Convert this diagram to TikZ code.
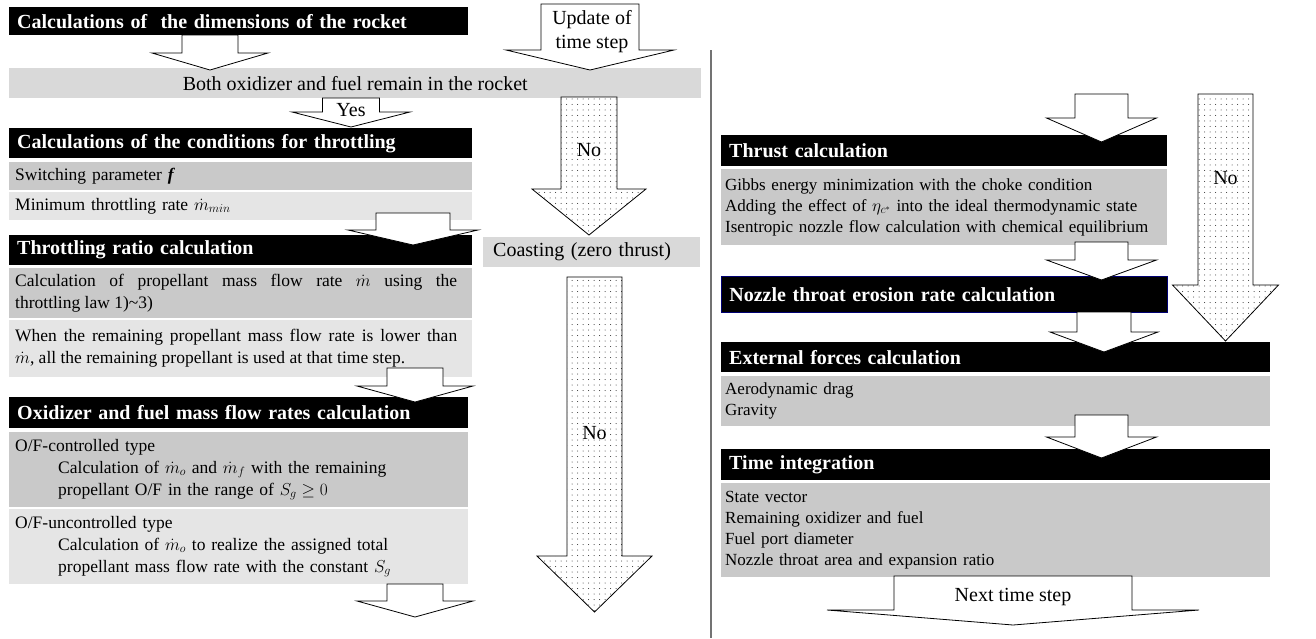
\documentclass[tikz,border=0pt]{standalone}
\usepackage{fontspec}
\setmainfont{Liberation Serif}
\usepackage{tikz}
\usetikzlibrary{patterns.meta}

\newcommand{\hdrfont}{\bfseries\fontsize{20}{24}\selectfont}
\newcommand{\rowfont}{\fontsize{17.5}{22}\selectfont}
\newcommand{\sideroWfont}{\fontsize{17}{21}\selectfont}
\newcommand{\barfont}{\fontsize{20}{24}\selectfont}
% justified paragraph inside a row
\newcommand{\justpar}[1]{\parbox{442pt}{\leftskip=0pt\rightskip=0pt\spaceskip=0pt\xspaceskip=0pt
  \parfillskip=0pt plus 1fil\relax #1}}
% block arrow: [style] {centre x}{top}{head base}{tip}{half shaft}{half head}
\newcommand{\blockarrow}[7][]{%
  \draw[#1] ({#2-#6},#3) -- ({#2-#6},#4) -- ({#2-#7},#4) -- (#2,#5)
    -- ({#2+#7},#4) -- ({#2+#6},#4) -- ({#2+#6},#3) -- cycle;}

\begin{document}
\begin{tikzpicture}[x=1pt, y=-1pt,
    hdr/.style={fill=black, text=white, font=\hdrfont, anchor=north west,
      inner xsep=8pt, inner ysep=0pt, align=left},
    darkrow/.style={fill=black!21, font=\rowfont, anchor=north west,
      inner xsep=6pt, inner ysep=0pt, align=left},
    lightrow/.style={darkrow, fill=black!10},
    siderow/.style={darkrow, font=\sideroWfont, inner xsep=4pt},
    greybar/.style={fill=black!15, font=\barfont, anchor=north west, inner sep=0pt},
    hollow/.style={draw=black, fill=white, line width=0.8pt},
    speckled/.style={draw=black, line width=0.8pt, preaction={fill=white},
      pattern={Dots[distance=5.5pt, radius=0.5pt]}, pattern color=black!85},
    lbl/.style={font=\barfont, inner sep=0pt, align=center}]
  \useasboundingbox (0,0) rectangle (1316,638);

  % Left column
  \node[hdr, text width=443pt, minimum height=28pt] (dims) at (9,7)
    {Calculations of\ \ the dimensions of the rocket};
  \node[greybar, minimum width=692pt, minimum height=30pt] (remain) at (9,68)
    {Both oxidizer and fuel remain in the rocket};
  \node[hdr, text width=447pt, minimum height=30pt] (cond) at (9,128)
    {Calculations of the conditions for throttling};
  \node[darkrow, text width=451pt, minimum height=28pt] (switch) at (9,162)
    {Switching parameter \textbf{\textit{f}}};
  \node[lightrow, text width=451pt, minimum height=28pt] (minrate) at (9,192)
    {Minimum throttling rate $\dot{m}_{min}$};
  \node[hdr, text width=447pt, minimum height=30pt] (ratio) at (9,235)
    {Throttling ratio calculation};
  \node[darkrow, text width=451pt, minimum height=50pt] (law) at (9,268)
    {\justpar{Calculation of propellant mass flow rate $\dot{m}$ using the\linebreak
      throttling law 1)\textasciitilde3)}};
  \node[lightrow, text width=451pt, minimum height=57pt] (lower) at (9,320)
    {\justpar{When the remaining propellant mass flow rate is lower than\linebreak
      $\dot{m}$, all the remaining propellant is used at that time step.}};
  \node[hdr, text width=443pt, minimum height=31pt] (oxfuel) at (9,397)
    {Oxidizer and fuel mass flow rates calculation};
  \node[darkrow, text width=447pt, minimum height=75pt] (ofctrl) at (9,432)
    {O/F-controlled type\\
     \hspace*{43pt}Calculation of $\dot{m}_o$ and $\dot{m}_f$ with the remaining\\
     \hspace*{43pt}propellant O/F in the range of $S_g \geq 0$};
  \node[lightrow, text width=447pt, minimum height=75pt] (ofunctrl) at (9,509)
    {O/F-uncontrolled type\\
     \hspace*{43pt}Calculation of $\dot{m}_o$ to realize the assigned total\\
     \hspace*{43pt}propellant mass flow rate with the constant $S_g$};

  % Middle
  \node[greybar, inner xsep=10pt, text width=197pt, minimum height=30pt, align=left]
    (coast) at (483,237) {Coasting (zero thrust)};
  \draw[black!55, line width=1.3pt] (711,50) -- (711,638);

  % Right column
  \node[hdr, text width=430pt, minimum height=31pt] (thrust) at (721,135)
    {Thrust calculation};
  \node[siderow, text width=438pt, minimum height=76pt] (gibbs) at (721,169)
    {Gibbs energy minimization with the choke condition\\
     Adding the effect of $\eta_{c^*}$ into the ideal thermodynamic state\\
     Isentropic nozzle flow calculation with chemical equilibrium};
  \node[hdr, draw=blue!45!black, line width=0.8pt, text width=430pt, minimum height=36pt]
    (erosion) at (721,276) {Nozzle throat erosion rate calculation};
  \node[hdr, text width=533pt, minimum height=30pt] (forces) at (721,342)
    {External forces calculation};
  \node[siderow, text width=541pt, minimum height=50pt] (drag) at (721,376)
    {Aerodynamic drag\\Gravity};
  \node[hdr, text width=533pt, minimum height=31pt] (integ) at (721,449)
    {Time integration};
  \node[siderow, text width=541pt, minimum height=94pt] (state) at (721,483)
    {State vector\\Remaining oxidizer and fuel\\Fuel port diameter\\
     Nozzle throat area and expansion ratio};

  % Hollow arrows
  \blockarrow[hollow]{210}{35}{53}{70}{28}{58}
  \blockarrow[hollow]{590}{4}{50}{70}{49}{84}
  \blockarrow[hollow]{351}{98}{112}{127}{28.5}{59}
  \blockarrow[hollow]{413}{213}{230}{245}{37}{65}
  \blockarrow[hollow]{415}{368}{386}{402}{28}{58}
  \blockarrow[hollow]{415}{584}{601}{617}{28}{58}
  \blockarrow[hollow]{1101.5}{94}{118}{142}{26.5}{55}
  \blockarrow[hollow]{1101.5}{242}{260}{280}{26.5}{55}
  \blockarrow[hollow]{1104}{312}{332}{352}{27}{54}
  \blockarrow[hollow]{1101.5}{415}{437}{458}{26.5}{55}
  \blockarrow[hollow]{1013}{576}{610}{625}{119}{186}

  % Dotted arrows
  \blockarrow[speckled]{589}{97}{189}{235}{28}{57}
  \blockarrow[speckled]{594.5}{277}{556}{612}{27.5}{57.5}
  \blockarrow[speckled]{1225.5}{94}{285}{341}{27.5}{53}

  % Arrow labels
  \node[lbl] (update) at (592,32) {Update of\\time step};
  \node[lbl] (yes) at (351,110) {Yes};
  \node[lbl] (noA) at (589,150) {No};
  \node[lbl] (noB) at (594.5,433) {No};
  \node[lbl] (noC) at (1225.5,178) {No};
  \node[lbl] (next) at (1013,597) {Next time step};
\end{tikzpicture}
\end{document}
